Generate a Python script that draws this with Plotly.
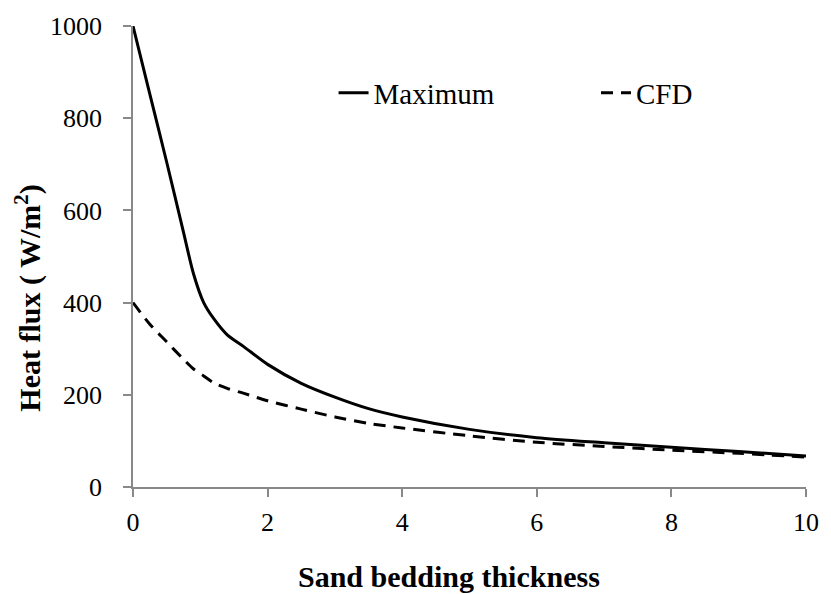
import plotly.graph_objects as go

# Sand bedding thickness and heat flux (W/m^2)
thickness = [0, 0.25, 0.5, 0.75, 0.9, 1.05, 1.2, 1.4, 1.65, 2.0, 2.5, 3.0, 3.5, 4.0,
             5.0, 6.0, 7.0, 8.0, 9.0, 10.0]
maximum = [1000, 852, 705, 553, 462, 400, 365, 330, 304, 266, 225, 195, 170, 152,
           125, 107, 96, 86, 77, 67]
cfd = [400, 353, 315, 277, 256, 241, 226, 214, 203, 187, 169, 152, 138, 128,
       111, 97, 88, 80, 73, 65]

x_ticks = [0, 2, 4, 6, 8, 10]
y_ticks = [0, 200, 400, 600, 800, 1000]

FONT = "Liberation Serif, Times New Roman, serif"

fig = go.Figure()
fig.add_trace(go.Scatter(
    x=thickness, y=maximum, name="Maximum", mode="lines", legend="legend",
    line=dict(color="black", width=3, shape="spline", smoothing=0.8),
))
fig.add_trace(go.Scatter(
    x=thickness, y=cfd, name="CFD", mode="lines", legend="legend2",
    line=dict(color="black", width=3, dash="12px,8px", shape="spline", smoothing=0.8),
))

axis_common = dict(
    showgrid=False, zeroline=False, showline=True, linecolor="#898989", linewidth=1.5,
    ticks="outside", tickcolor="#898989", tickwidth=1.5, ticklen=8,
    tickfont=dict(family=FONT, size=26, color="black"),
)

fig.update_xaxes(range=[0, 10], tickvals=x_ticks, ticklabelstandoff=3, **axis_common)
fig.update_yaxes(range=[0, 1000], tickvals=y_ticks, ticklabelstandoff=16, **axis_common)

legend_style = dict(
    orientation="h", yanchor="middle", xanchor="left", y=0.855,
    font=dict(family=FONT, size=29, color="black"),
    bgcolor="rgba(0,0,0,0)",
)

fig.update_layout(
    width=831, height=594,
    margin=dict(l=133, r=20, t=20, b=107),
    paper_bgcolor="white", plot_bgcolor="white",
    font=dict(family=FONT, size=26, color="black"),
    showlegend=True,
    legend=dict(x=0.298, **legend_style),
    legend2=dict(x=0.688, **legend_style),
    annotations=[
        dict(text="<b>Sand bedding thickness</b>", xref="paper", yref="paper",
             x=0.47, y=-0.195, xanchor="center", yanchor="middle", showarrow=False,
             font=dict(family=FONT, size=30, color="black")),
        dict(text="<b>Heat flux ( W/m<sup>2</sup>)</b>", xref="paper", yref="paper",
             x=-0.155, y=0.41, xanchor="center", yanchor="middle", showarrow=False,
             textangle=-90, font=dict(family=FONT, size=30, color="black")),
    ],
)

fig.write_html("out.html")
